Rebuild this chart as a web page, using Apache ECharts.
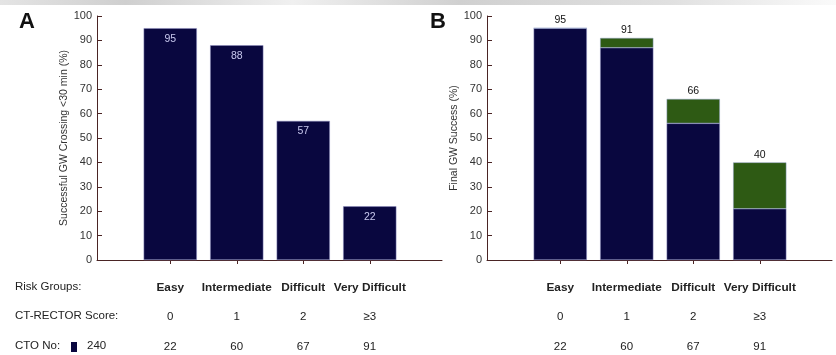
<!DOCTYPE html>
<html><head><meta charset="utf-8">
<script src="https://cdn.jsdelivr.net/npm/echarts@6/dist/echarts.min.js"></script>
<style>html,body{margin:0;padding:0;background:#fff}#c{width:836px;height:355px}</style>
</head><body><div id="c"></div>
<script>
const categories = ['Easy', 'Intermediate', 'Difficult', 'Very Difficult'];
const scores = ['0', '1', '2', '≥3'];
const ctoCounts = ['22', '60', '67', '91'];
const crossing30 = [95, 88, 57, 22];
const finalFirst = [95, 87, 56, 21];
const finalExtra = [0, 4, 10, 19];
const finalTotals = [95, 91, 66, 40];
const yTicks = [0, 100, 10];
const totalCTO = '240';

const FONT = 'Liberation Sans, Arial, sans-serif';
const NAVY = '#09073f';
const GREEN = '#2e5a14';
const AXC = '#4a2424';

const chart = echarts.init(document.getElementById('c'));

function yAxisVisible(gridIndex, name) {
  return {
    type: 'value', gridIndex, min: yTicks[0], max: yTicks[1], interval: yTicks[2],
    axisLine: { show: true, lineStyle: { color: AXC, width: 1 } },
    axisTick: { show: true, inside: true, length: 5, lineStyle: { color: AXC } },
    axisLabel: { fontSize: 11, color: '#333', fontFamily: FONT, margin: 5 },
    splitLine: { show: false },
    name, nameLocation: 'middle', nameGap: 27, nameRotate: 90,
    nameTextStyle: { fontSize: 10.5, color: '#333', fontFamily: FONT }
  };
}
function yAxisHidden(gridIndex) {
  return { type: 'value', gridIndex, min: yTicks[0], max: yTicks[1], interval: yTicks[2], show: false };
}
function xLine(gridIndex) {
  return {
    type: 'value', gridIndex, min: 0, max: 1, offset: 3,
    axisLine: { show: true, lineStyle: { color: AXC, width: 1 } },
    axisTick: { show: false }, axisLabel: { show: false }, splitLine: { show: false }
  };
}
function xCat(gridIndex) {
  return {
    type: 'category', gridIndex, data: categories, offset: 3,
    axisLine: { show: false },
    axisTick: { show: true, alignWithLabel: true, length: 4, lineStyle: { color: AXC } },
    axisLabel: {
      interval: 0, margin: 10, fontFamily: FONT, color: '#222',
      formatter: (v, i) => `{b|${v}}\n{n|${scores[i]}}\n{n|${ctoCounts[i]}}`,
      rich: {
        b: { fontSize: 11.8, fontWeight: 'bold', lineHeight: 29.5, fontFamily: FONT, color: '#222' },
        n: { fontSize: 11.5, lineHeight: 29.5, fontFamily: FONT, color: '#222' }
      }
    }
  };
}

const barBase = { barCategoryGap: '20%' };

chart.setOption({
  animation: false,
  grid: [
    { left: 97, top: 16, width: 345, height: 244 },
    { left: 137, top: 16, width: 266, height: 244 },
    { left: 487, top: 16, width: 345, height: 244 },
    { left: 527, top: 16, width: 266, height: 244 }
  ],
  xAxis: [xLine(0), xCat(1), xLine(2), xCat(3)],
  yAxis: [
    yAxisVisible(0, 'Successful GW Crossing <30 min (%)'), yAxisHidden(1),
    yAxisVisible(2, 'Final GW Success (%)'), yAxisHidden(3)
  ],
  series: [
    Object.assign({}, barBase, {
      type: 'bar', xAxisIndex: 1, yAxisIndex: 1, data: crossing30,
      itemStyle: { color: NAVY, borderColor: '#8c8cc0', borderWidth: 0.5 },
      label: { show: true, position: 'insideTop', distance: 5, fontSize: 10.5, color: '#c8c8ee', fontFamily: FONT }
    }),
    Object.assign({}, barBase, {
      type: 'bar', xAxisIndex: 3, yAxisIndex: 3, stack: 'f', data: finalFirst,
      itemStyle: { color: NAVY, borderColor: '#8c8cc0', borderWidth: 0.5 }
    }),
    Object.assign({}, barBase, {
      type: 'bar', xAxisIndex: 3, yAxisIndex: 3, stack: 'f', data: finalExtra,
      itemStyle: { color: GREEN, borderColor: '#8c9cc0', borderWidth: 0.5 },
      label: { show: true, position: 'top', distance: 2, fontSize: 10.5, color: '#111', fontFamily: FONT,
        formatter: p => finalTotals[p.dataIndex] }
    })
  ],
  graphic: [
    { type: 'rect', shape: { x: 0, y: 0, width: 836, height: 5 }, style: { fill: new echarts.graphic.LinearGradient(0, 0, 1, 0, [
      { offset: 0, color: '#e4e4e4' }, { offset: 0.15, color: '#cfcfcf' }, { offset: 0.35, color: '#f0f0f0' },
      { offset: 0.55, color: '#d0d0d0' }, { offset: 0.8, color: '#e0e0e0' }, { offset: 1, color: '#fafafa' }]) }, silent: true },
    { type: 'text', left: 19, top: 11, style: { text: 'A', font: 'bold 22px ' + FONT, fill: '#111' } },
    { type: 'text', left: 430, top: 11, style: { text: 'B', font: 'bold 22px ' + FONT, fill: '#111' } },
    { type: 'text', left: 15, top: 281, style: { text: 'Risk Groups:', font: '11.5px ' + FONT, fill: '#222' } },
    { type: 'text', left: 15, top: 310, style: { text: 'CT-RECTOR Score:', font: '11.5px ' + FONT, fill: '#222' } },
    { type: 'text', left: 15, top: 340, style: { text: 'CTO No:', font: '11.5px ' + FONT, fill: '#222' } },
    { type: 'rect', shape: { x: 71, y: 342, width: 6, height: 10 }, style: { fill: NAVY } },
    { type: 'text', left: 87, top: 340, style: { text: totalCTO, font: '11.5px ' + FONT, fill: '#222' } }
  ]
});
</script></body></html>
